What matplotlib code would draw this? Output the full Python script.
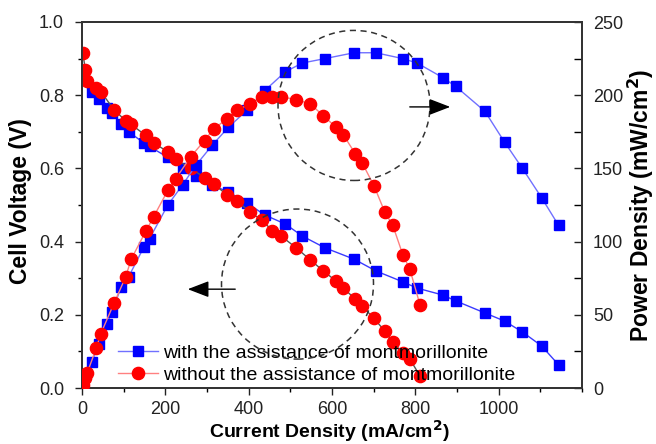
import matplotlib
matplotlib.use("Agg")
import matplotlib.pyplot as plt
from matplotlib.patches import Ellipse
from matplotlib.ticker import MultipleLocator

plt.rcParams['font.family'] = ['Liberation Sans', 'DejaVu Sans']

# With the assistance of montmorillonite
i_with = [3, 24, 40, 60, 72, 94, 112, 148, 162, 206, 242, 273, 313, 351, 397,
          438, 488, 529, 583, 653, 705, 770, 804, 866, 897, 967, 1014, 1057, 1103, 1144]
v_with = [0.87, 0.81, 0.79, 0.765, 0.75, 0.72, 0.70, 0.67, 0.66, 0.63, 0.60, 0.58, 0.555, 0.535, 0.505,
          0.473, 0.448, 0.415, 0.383, 0.352, 0.32, 0.29, 0.273, 0.254, 0.238, 0.205, 0.183, 0.153, 0.115, 0.063]
p_with = [3, 18, 30, 44, 52, 69, 76, 96, 102, 125, 139, 152, 166, 178, 190,
          203, 216, 222, 225, 229, 229, 225, 222, 212, 206, 189, 168, 150, 130, 111]

# Without the assistance of montmorillonite
i_without = [2, 8, 12, 34, 45, 77, 105, 118, 153, 172, 206, 225, 261, 294, 316, 349, 373,
             404, 431, 457, 478, 514, 548, 579, 610, 627, 656, 672, 701, 727, 746, 770, 787, 811]
v_without = [0.915, 0.87, 0.84, 0.82, 0.81, 0.76, 0.73, 0.72, 0.69, 0.67, 0.645, 0.625, 0.60, 0.575, 0.557,
             0.527, 0.51, 0.48, 0.459, 0.43, 0.415, 0.383, 0.35, 0.32, 0.292, 0.273, 0.243, 0.224,
             0.19, 0.155, 0.125, 0.096, 0.079, 0.033]
p_without = [2, 7, 10, 27, 37, 58, 76, 88, 107, 117, 135, 143, 158, 169, 177, 184, 190, 194, 199,
             199, 199, 197, 194, 186, 178, 173, 160, 154, 138, 120, 111, 91, 81, 57]

label_with = "with the assistance of montmorillonite"
label_without = "without the assistance of montmorillonite"

fig = plt.figure(figsize=(6.56, 4.44), dpi=100)
ax = fig.add_axes([82/656, 56/444, 500/656, 366/444])
ax2 = ax.twinx()

ms_sq = 7.4
ms_ci = 8.8

ax.plot(i_with, v_with, color='#3a3aff', lw=1.0, marker='s', ms=ms_sq,
        mfc='#0000ff', mec='#0000ff', zorder=3)
ax.plot(i_without, v_without, color='#555555', lw=1.0, marker='o', ms=ms_ci,
        mfc='#ff0000', mec='#ff0000', zorder=4)

l1, = ax2.plot(i_with, p_with, color='#7070ff', lw=1.0, marker='s', ms=ms_sq,
               mfc='#0000ff', mec='#0000ff', label=label_with, zorder=3)
l2, = ax2.plot(i_without, p_without, color='#ff8080', lw=1.0, marker='o', ms=ms_ci,
               mfc='#ff0000', mec='#ff0000', label=label_without, zorder=4)

ax.set_xlim(0, 1200)
ax.set_ylim(0, 1.0)
ax2.set_ylim(0, 250)

ax.xaxis.set_major_locator(MultipleLocator(200))
ax.xaxis.set_minor_locator(MultipleLocator(100))
ax.yaxis.set_major_locator(MultipleLocator(0.2))
ax.yaxis.set_minor_locator(MultipleLocator(0.1))
ax2.yaxis.set_major_locator(MultipleLocator(50))
ax2.yaxis.set_minor_locator(MultipleLocator(25))
ax.set_xticks([0, 200, 400, 600, 800, 1000])
ax.set_yticks([0.0, 0.2, 0.4, 0.6, 0.8, 1.0])
ax.set_yticklabels(["0.0", "0.2", "0.4", "0.6", "0.8", "1.0"])

ax.tick_params(which='major', direction='out', length=5, width=1.0, labelsize=13,
               colors='#222222')
ax.tick_params(axis='x', which='major', pad=4)
ax.tick_params(axis='y', which='major', pad=8)
ax.tick_params(which='minor', direction='out', length=3, width=1.0)
ax2.tick_params(which='major', direction='in', length=6, width=1.0, labelsize=13,
                colors='#222222', pad=8)
ax2.tick_params(which='minor', direction='in', length=6, width=1.0)
for a in (ax, ax2):
    for s in a.spines.values():
        s.set_linewidth(1.3)
        s.set_color('#333333')

ax.set_xlabel("Current Density (mA/cm$^{\\mathbf{2}}$)", fontsize=14, fontweight='bold', va='top')
ax.xaxis.set_label_coords(0.494, -0.083)
ax.set_ylabel("Cell Voltage (V)", fontsize=16.5, fontweight='bold', va='center')
ax.yaxis.set_label_coords(-0.122, 0.51)
ax2.set_ylabel("Power Density (mW/cm$^{\\mathbf{2}}$)", fontsize=16.5, fontweight='bold', va='center')
ax2.yaxis.set_label_coords(1.118, 0.5)

# Dashed circles
for cx, cy in [(0.544, 0.772), (0.431, 0.284)]:
    e = Ellipse((cx, cy), 0.304, 0.41, transform=ax2.transAxes, fill=False,
                ls=(0, (4, 3)), lw=1.1, color='#333333', zorder=6)
    ax2.add_patch(e)

# Arrows
ax2.annotate("", xy=(0.742, 0.768), xytext=(0.65, 0.768), xycoords='axes fraction',
             arrowprops=dict(arrowstyle='-|>,head_length=1.3,head_width=0.5', color='black', lw=1.0),
             zorder=7)
ax2.annotate("", xy=(0.206, 0.270), xytext=(0.312, 0.270), xycoords='axes fraction',
             arrowprops=dict(arrowstyle='-|>,head_length=1.3,head_width=0.5', color='black', lw=1.0),
             zorder=7)

leg = ax2.legend(handles=[l1, l2], loc='lower left', bbox_to_anchor=(0.072, 0.012),
                 frameon=False, fontsize=14, handlelength=2.05, handletextpad=0.25,
                 labelspacing=0.2, borderaxespad=0.0, borderpad=0.0)

fig.savefig("out.png", dpi=100)
